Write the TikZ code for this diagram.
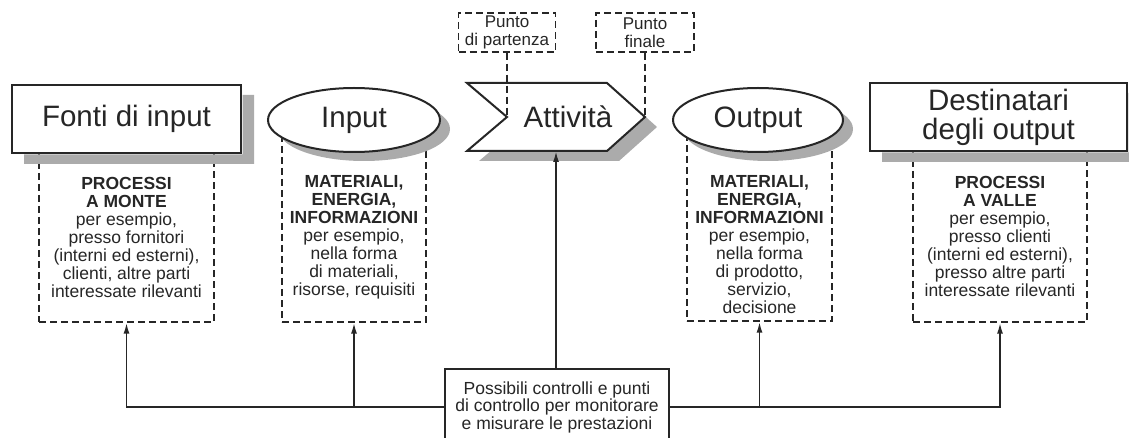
\documentclass[tikz,border=0pt]{standalone}
\usepackage{fontspec}
\setmainfont{Liberation Sans}
\usetikzlibrary{arrows.meta,shapes.geometric}
\definecolor{ink}{HTML}{262626}
\definecolor{shadowgray}{HTML}{ABABAB}
\begin{document}
\begin{tikzpicture}[x=1pt,y=-1pt,
  bigfont/.style={font=\fontsize{29.5}{29}\selectfont},
  smallfont/.style={font=\fontsize{17.5}{18}\selectfont},
  boxshadow/.style={preaction={fill=shadowgray,draw=none,transform canvas={xshift=12pt,yshift=-10pt}}},
  ellshadow/.style={preaction={fill=shadowgray,draw=none,transform canvas={xshift=10pt,yshift=-9pt}}},
  mainbox/.style={rectangle,draw=ink,line width=2.4pt,fill=white,inner sep=0pt,text=ink,align=center,bigfont},
  mainell/.style={ellipse,draw=ink,line width=2pt,fill=white,inner sep=0pt,text=ink,bigfont,ellshadow},
  dashbox/.style={rectangle,draw=ink,line width=1.3pt,dash pattern=on 7pt off 4pt,inner sep=0pt},
  puntobox/.style={dashbox,align=center,text=ink,font=\fontsize{17}{18}\selectfont},
  desc/.style={align=center,text=ink,smallfont,inner sep=0pt},
  dashline/.style={draw=ink,line width=1.3pt,dash pattern=on 7pt off 4pt},
  conn/.style={draw=ink,line width=1.8pt,-{Latex[length=11pt,width=6pt]}},
  ctrlbox/.style={rectangle,draw=ink,line width=2.2pt,fill=white,inner sep=0pt,align=center,text=ink,
    font=\fontsize{17.5}{17.5}\selectfont}
]
\useasboundingbox (0,0) rectangle (1129,438);

% dashed description boxes (drawn first, tops hidden by shapes)
\node[dashbox,minimum width=175,minimum height=169] (fontiD) at (126.5,237.5) {};
\node[dashbox,minimum width=144,minimum height=197] (inD) at (354,223.5) {};
\node[dashbox,minimum width=145,minimum height=196] (outD) at (759.5,223) {};
\node[dashbox,minimum width=174,minimum height=171] (destD) at (1000,236.5) {};

% main shapes
\node[mainbox,minimum width=229,minimum height=68] (fonti) at (126.5,119) {Fonti di input};
\node[mainell,minimum width=172,minimum height=64] (inp) at (354,120) {Input};
\node[mainell,minimum width=170,minimum height=64] (outp) at (758,120) {Output};
\node[mainbox,minimum width=257,minimum height=68] (dest) at (998.5,117) {Destinatari\\degli output};

% shadows of the rectangular boxes (L-shaped, beside the boxes)
\path[fill=shadowgray] (242.5,95) -- (254,95) -- (254,164) -- (24,164) -- (24,154.5) -- (242.5,154.5) -- cycle;
\path[fill=shadowgray] (1128.5,93) -- (1140,93) -- (1140,162) -- (882,162) -- (882,152.5) -- (1128.5,152.5) -- cycle;

% Attivita (signal shape)
\draw[ink,line width=2pt,fill=white,line join=miter,boxshadow] (467,83) -- (607,83) -- (645,117) -- (607,151) -- (467,151) -- (507,117) -- cycle;
\node[text=ink,bigfont] (att) at (568,117) {Attività};
\coordinate (attNotch) at (507,117);
\coordinate (attTip) at (645,117);
\coordinate (attBottom) at (556,151);

% Punto boxes
\node[puntobox,minimum width=97,minimum height=39] (pp) at (507,32.5) {Punto\\di partenza};
\node[puntobox,minimum width=98,minimum height=39] (pf) at (645,32.5) {Punto\\finale};
\draw[dashline] (pp.south) -- (attNotch);
\draw[dashline] (pf.south) -- (attTip);

% description texts
\node[desc] (fontiT) at (126.5,237) {\textbf{PROCESSI}\\\textbf{A MONTE}\\per esempio,\\presso fornitori\\(interni ed esterni),\\clienti, altre parti\\interessate rilevanti};
\node[desc] (inT) at (354,237) {\textbf{MATERIALI,}\\\textbf{ENERGIA,}\\\textbf{INFORMAZIONI}\\per esempio,\\nella forma\\di materiali,\\risorse, requisiti};
\node[desc] (outT) at (759.5,245) {\textbf{MATERIALI,}\\\textbf{ENERGIA,}\\\textbf{INFORMAZIONI}\\per esempio,\\nella forma\\di prodotto,\\servizio,\\decisione};
\node[desc] (destT) at (1000,236) {\textbf{PROCESSI}\\\textbf{A VALLE}\\per esempio,\\presso clienti\\(interni ed esterni),\\presso altre parti\\interessate rilevanti};

% control box
\node[ctrlbox,minimum width=224,minimum height=76] (ctrl) at (557,407) {Possibili controlli e punti\\di controllo per monitorare\\e misurare le prestazioni};

% connectors
\draw[conn] (ctrl.north -| attBottom) -- (attBottom);
\draw[conn] (ctrl.west) -| (fontiD.south);
\draw[conn] (ctrl.west -| inD.south) -- (inD.south);
\draw[conn] (ctrl.east) -| (destD.south);
\draw[conn] (ctrl.east -| outD.south) -- (outD.south);
\end{tikzpicture}
\end{document}
